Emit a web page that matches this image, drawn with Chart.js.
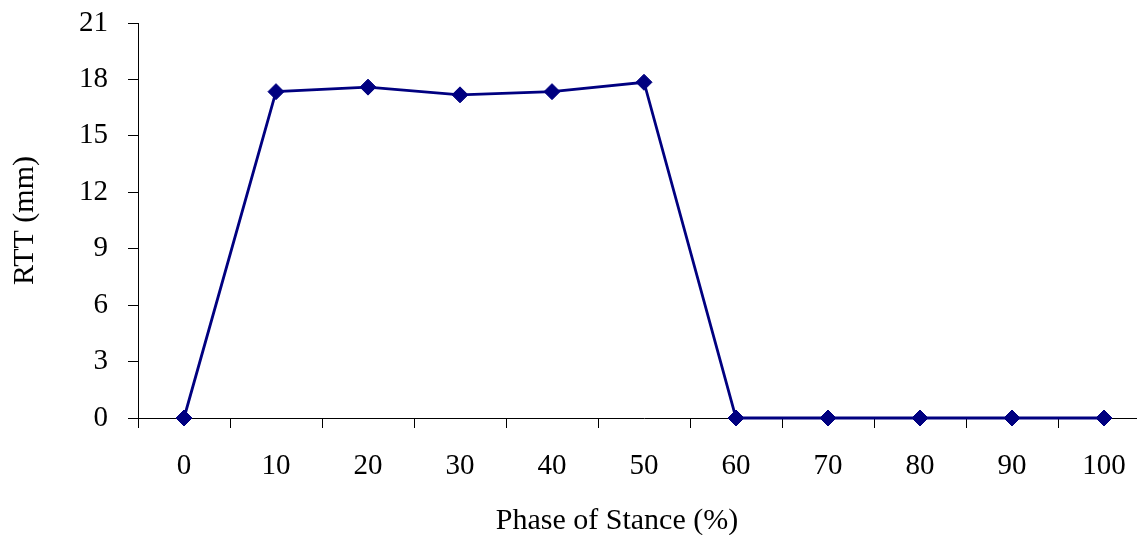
<!DOCTYPE html>
<html>
<head>
<meta charset="utf-8">
<script src="https://cdn.jsdelivr.net/npm/chart.js@4/dist/chart.umd.min.js"></script>
<style>
  html, body { margin: 0; padding: 0; background: #fff; }
  #wrap { position: relative; width: 1137px; height: 535px; overflow: hidden; }
  #grafico { position: absolute; left: 0; top: 0; }
  #tituloX {
    position: absolute; left: 0; width: 1234px; top: 501px;
    text-align: center; font-family: "Liberation Serif", "Times New Roman", serif;
    font-size: 30px; color: #000; line-height: 36px;
  }
</style>
</head>
<body>
<div id="wrap">
  <canvas id="grafico" width="1159" height="535"></canvas>
  <div id="tituloX">Phase of Stance (%)</div>
</div>
<script>
// dados
const fases = ["0", "10", "20", "30", "40", "50", "60", "70", "80", "90", "100"];
const rtt = [0, 17.35, 17.59, 17.18, 17.35, 17.85, 0, 0, 0, 0, 0];
const yMin = 0;
const yMax = 21;
const yPasso = 3;

const fonte = "'Liberation Serif', 'Times New Roman', serif";
const azul = "#000080";

const ctx = document.getElementById("grafico").getContext("2d");

let grafico = new Chart(ctx, {
  type: "line",
  data: {
    labels: fases,
    datasets: [
      {
        label: "RTT",
        data: rtt,
        borderColor: azul,
        backgroundColor: azul,
        borderWidth: 2.8,
        pointStyle: "rectRot",
        pointRadius: 8,
        pointBorderWidth: 1,
        pointBackgroundColor: azul,
        pointBorderColor: azul,
        tension: 0,
        clip: false,
      },
    ],
  },
  options: {
    responsive: false,
    animation: false,
    layout: { padding: { top: 23, right: 1, left: 0, bottom: 0 } },
    plugins: {
      legend: { display: false },
      tooltip: { enabled: false },
    },
    scales: {
      x: {
        type: "category",
        offset: true,
        afterFit: (s) => { s.height = 117; s.paddingLeft = 0; s.paddingRight = 0; },
        border: { display: true, color: "#000", width: 1 },
        grid: {
          offset: true,
          drawOnChartArea: false,
          drawTicks: true,
          tickLength: 10,
          color: "#000",
        },
        ticks: {
          color: "#000",
          font: { family: fonte, size: 29 },
          padding: 21,
          maxRotation: 0,
          autoSkip: false,
        },
      },
      y: {
        min: yMin,
        max: yMax,
        afterFit: (s) => { s.width = 138; s.paddingTop = 0; s.paddingBottom = 0; },
        border: { display: true, color: "#000", width: 1 },
        grid: {
          drawOnChartArea: false,
          drawTicks: true,
          tickLength: 10,
          color: "#000",
        },
        ticks: {
          stepSize: yPasso,
          color: "#000",
          font: { family: fonte, size: 29 },
          padding: 20,
        },
        title: {
          display: true,
          text: "RTT (mm)",
          color: "#000",
          font: { family: fonte, size: 30 },
          padding: { top: 7, bottom: 0 },
        },
      },
    },
  },
});
</script>
</body>
</html>
